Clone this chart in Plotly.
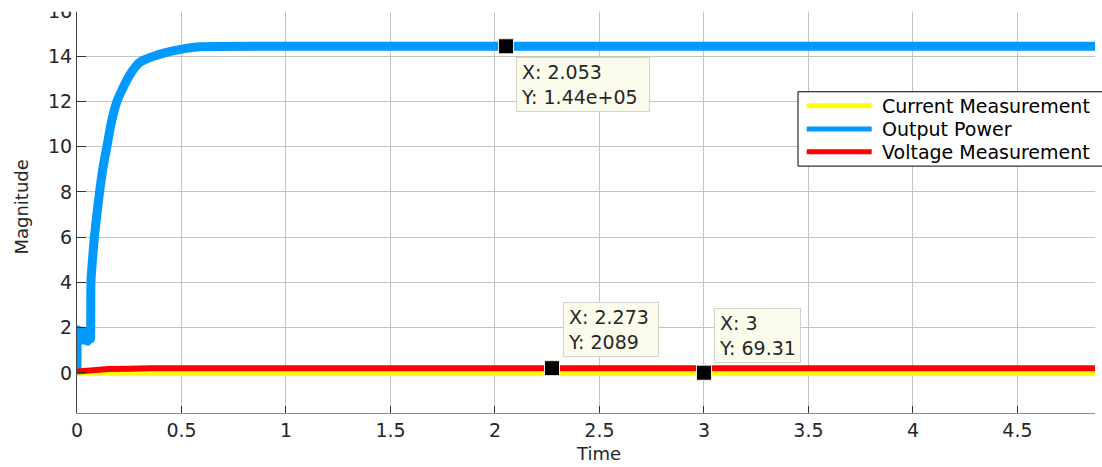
import plotly.graph_objects as go

# ---- data (signal values in physical units; y axis labelled in units of 1e4) ----
t_power = [0, 0.003, 0.012, 0.02, 0.03, 0.04, 0.05, 0.058, 0.064, 0.067, 0.075, 0.083,
           0.095, 0.108, 0.125, 0.143, 0.165, 0.191, 0.215, 0.239, 0.265, 0.295, 0.33,
           0.367, 0.42, 0.478, 0.53, 0.59, 1.0, 1.5,
           2.053, 2.5, 3.0, 3.5, 4.0, 4.5, 4.871]
p_power = [0, 19000, 15500, 18500, 14500, 18000, 14000, 17500, 15000, 41000, 51000, 60000,
           70000, 80000, 91000, 100000, 111000, 120000, 125000, 129500, 133500, 136900, 138700,
           140000, 141500, 142700, 143600, 144200, 144400, 144400,
           144400, 144400, 144400, 144400, 144400, 144400, 144400]

t_voltage = [0, 0.03, 0.06, 0.1, 0.15, 0.25, 0.34, 0.35, 2.273, 4.871]
v_voltage = [600, 900, 1200, 1500, 1700, 1800, 1850, 2089, 2089, 2089]

t_current = [0, 3.0, 4.871]
i_current = [69.31, 69.31, 69.31]

# data tips: (x, y, label)
tip_x = [2.053, 2.273, 3.0]
tip_y = [144400, 2089, 69.31]
tip_text = ["X: 2.053<br>Y: 1.44e+05", "X: 2.273<br>Y: 2089", "X: 3<br>Y: 69.31"]

y_ticks = [0, 20000, 40000, 60000, 80000, 100000, 120000, 140000, 160000]
y_tick_labels = ["0", "2", "4", "6", "8", "10", "12", "14", "16"]
x_ticks = [0, 0.5, 1, 1.5, 2, 2.5, 3, 3.5, 4, 4.5]
x_tick_labels = ["0", "0.5", "1", "1.5", "2", "2.5", "3", "3.5", "4", "4.5"]

series_names = ["Current Measurement", "Output Power", "Voltage Measurement"]
series_colors = ["#ffff00", "#0099ff", "#ff0000"]

# ---- layout geometry (pixels) ----
W, H = 1102, 467
L, R, T, B = 77, 1095, 10, 412.7
FONT = "DejaVu Sans"
TXT = "#262626"
FS = 19


def px(xp):
    return (xp - L) / (R - L)


def py(yp):
    return (B - yp) / (B - T)


fig = go.Figure()
fig.add_trace(go.Scatter(x=t_current, y=i_current, mode="lines",
                         line=dict(color=series_colors[0], width=6), showlegend=False))
fig.add_trace(go.Scatter(x=t_power, y=p_power, mode="lines",
                         line=dict(color=series_colors[1], width=9, shape="spline", smoothing=0.6),
                         showlegend=False))
fig.add_trace(go.Scatter(x=t_voltage, y=v_voltage, mode="lines",
                         line=dict(color=series_colors[2], width=6), showlegend=False))
fig.add_trace(go.Scatter(x=tip_x, y=tip_y, mode="markers", showlegend=False,
                         marker=dict(symbol="square", size=15, color="black",
                                     line=dict(color="#f0f0e0", width=1))))

# data-tip boxes: (xshift, yshift, yanchor, width, height)
tip_boxes = [(10, -11, "top", 124, 45), (10.5, 11, "bottom", 86, 45), (9.6, 9.5, "bottom", 77, 45)]
annotations = []
for (xv, yv, txt), (xs, ys, ya, w, h) in zip(zip(tip_x, tip_y, tip_text), tip_boxes):
    annotations.append(dict(
        x=xv, y=yv, xref="x", yref="y", text=txt, showarrow=False,
        xanchor="left", yanchor=ya, xshift=xs, yshift=ys, align="left",
        width=w, height=h, valign="middle",
        bgcolor="rgb(252,252,236)", bordercolor="#d2d2c8", borderwidth=1, borderpad=4,
        font=dict(family=FONT, size=FS, color=TXT)))

# axis titles
annotations.append(dict(x=px(21.7), y=py(206.7), xref="paper", yref="paper",
                        text="Magnitude", textangle=-90, showarrow=False,
                        xanchor="center", yanchor="middle",
                        font=dict(family=FONT, size=18, color=TXT)))
annotations.append(dict(x=px(598), y=py(453), xref="paper", yref="paper",
                        text="Time", showarrow=False, xanchor="center", yanchor="middle",
                        font=dict(family=FONT, size=18, color=TXT)))

# legend
shapes = [dict(type="rect", xref="paper", yref="paper", layer="above",
               x0=px(798), x1=px(1120), y0=py(166), y1=py(91.7),
               fillcolor="white", line=dict(color="black", width=1))]
for name, color, yp in zip(series_names, series_colors, [105.7, 129, 151.7]):
    shapes.append(dict(type="line", xref="paper", yref="paper", layer="above",
                       x0=px(806.7), x1=px(871.7), y0=py(yp), y1=py(yp),
                       line=dict(color=color, width=5)))
    annotations.append(dict(x=px(880), y=py(yp), xref="paper", yref="paper", text=name,
                            showarrow=False, xanchor="left", yanchor="middle",
                            font=dict(family=FONT, size=FS, color="black")))

# white band along the top edge of the page
shapes.append(dict(type="rect", xref="paper", yref="paper", layer="above",
                   x0=px(-5), x1=px(W + 5), y0=py(11.8), y1=py(-20),
                   fillcolor="white", line=dict(width=0)))

fig.update_layout(
    width=W, height=H, autosize=False,
    margin=dict(l=L, r=W - R, t=T, b=H - B, autoexpand=False),
    paper_bgcolor="white", plot_bgcolor="white",
    font=dict(family=FONT, size=FS, color=TXT),
    showlegend=False,
    annotations=annotations, shapes=shapes,
    xaxis=dict(range=[0, 4.871], tickvals=x_ticks, ticktext=x_tick_labels,
               showgrid=True, gridcolor="#c4c4c4", gridwidth=1,
               showline=True, linecolor="#8c8c8c", linewidth=1,
               ticks="inside", ticklen=7, tickcolor="#333333", automargin=False,
               zeroline=False, tickfont=dict(family=FONT, size=FS, color=TXT)),
    yaxis=dict(range=[-17740, 160442], tickvals=y_ticks, ticktext=y_tick_labels,
               showgrid=True, gridcolor="#c4c4c4", gridwidth=1,
               showline=True, linecolor="#444444", linewidth=1,
               ticks="inside", ticklen=9, tickcolor="#333333", ticklabeloverflow="allow",
               automargin=False,
               zeroline=False, tickfont=dict(family=FONT, size=FS, color=TXT)),
)

fig.write_html("out.html")
